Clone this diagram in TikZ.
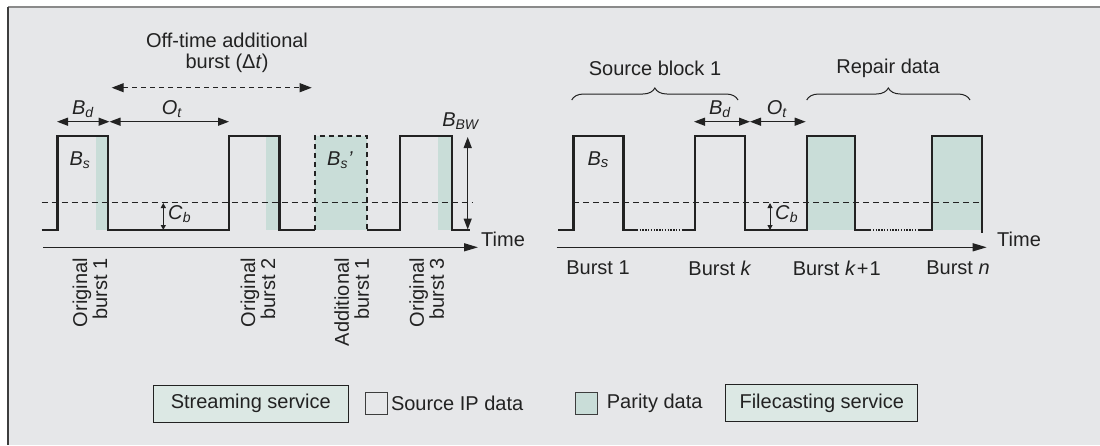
\documentclass[tikz,border=0pt]{standalone}
\usepackage{fontspec}
\setmainfont{Liberation Sans}
\usetikzlibrary{arrows.meta,positioning,decorations.pathreplacing}
\definecolor{bggray}{HTML}{E6E7E9}
\definecolor{paritygreen}{HTML}{C9DDD8}
\definecolor{legendgreen}{HTML}{DCE8E4}
\definecolor{inkgray}{HTML}{222222}
\definecolor{framegray}{HTML}{8A8A8A}
\definecolor{edgegray}{HTML}{3D3D3D}
\newcommand{\vsub}[2]{\textit{#1}\textsubscript{\textit{#2}}}

\begin{document}
\begin{tikzpicture}[x=1pt, y=-1pt,
    every node/.style={font=\fontsize{20}{21}\selectfont, text=inkgray, inner sep=1pt},
    signal/.style={draw=inkgray, line width=2.4pt, line join=miter},
    parity/.style={fill=paritygreen},
    level/.style={draw=inkgray, line width=0.9pt, dash pattern=on 6pt off 4pt},
    dim/.style={draw=inkgray, line width=1.3pt, {Triangle[length=11pt,width=8pt]}-{Triangle[length=11pt,width=8pt]}},
    smalldim/.style={draw=inkgray, line width=1pt, {Triangle[length=5pt,width=5pt]}-{Triangle[length=5pt,width=5pt]}},
    axis/.style={draw=inkgray, line width=1.3pt, -{Triangle[length=14pt,width=8pt]}},
    brace/.style={draw=inkgray, line width=1pt, decorate, decoration={brace, amplitude=12pt}},
    burstlabel/.style={rotate=90, anchor=east, align=right, inner sep=0pt, font=\fontsize{20}{20}\selectfont},
    svcbox/.style={draw=inkgray, line width=1pt, fill=legendgreen, minimum height=37pt},
    keybox/.style={draw=edgegray, line width=1pt, minimum size=22pt, inner sep=0pt}
  ]
    \useasboundingbox (0,0) rectangle (1100,445);
    \fill[bggray] (8,7) rectangle (1100,445);
    \draw[framegray, line width=1.5pt] (1100,7) -- (8,7);
    \draw[edgegray, line width=1.5pt] (8,7) -- (8,445);

    % left: streaming service
    \fill[parity] (95.7,135.7) rectangle (107.7,230);
    \fill[parity] (265.7,135.7) rectangle (279.3,230);
    \fill[parity] (315,135.7) rectangle (366.7,230);
    \fill[parity] (437.7,135.7) rectangle (451.7,230);
    \draw[level] (41.7,202) -- (473,202);
    \draw[signal] (41.7,230) -- (57.3,230) -- (57.3,135.7) -- (107.7,135.7) -- (107.7,230) -- (228.7,230)
      -- (228.7,135.7) -- (279.3,135.7) -- (279.3,230) -- (315,230);
    \draw[signal, dash pattern=on 5pt off 4pt] (315,230) -- (315,135.7) -- (366.7,135.7) -- (366.7,230);
    \draw[signal] (366.7,230) -- (400,230) -- (400,135.7) -- (451.7,135.7) -- (451.7,230) -- (470,230);

    \coordinate (bdA) at (57,121.7);
    \coordinate (bdB) at (109.5,121.7);
    \coordinate (otB) at (229,121.7);
    \draw[dim] (bdA) -- (bdB);
    \draw[dim] (bdB) -- (otB);
    \node[anchor=south] (bdlab) at (83,119) {\vsub{B}{d}};
    \node[anchor=south] (otlab) at (172,119) {\vsub{O}{t}};

    \coordinate (offA) at (111.7,87.7);
    \coordinate (offB) at (311.7,87.7);
    \draw[draw=inkgray, line width=1pt, dash pattern=on 5pt off 4pt,
      {Triangle[length=12pt,width=9pt]}-{Triangle[length=12pt,width=9pt]}] (offA) -- (offB);
    \node[align=center] (offlab) at (227,53) {Off-time additional\\burst (Δ\textit{t})};

    \node (bs1) at (80,160) {\vsub{B}{s}};
    \node (bs2) at (340,160) {\vsub{B}{s}\textit{’}};

    \coordinate (cbTop) at (163.3,203);
    \coordinate (cbBot) at (163.3,230);
    \draw[smalldim] (cbTop) -- (cbBot);
    \node[anchor=west] (cblab) at (167,214) {\vsub{C}{b}};

    \coordinate (bwTop) at (467.7,137);
    \coordinate (bwBot) at (467.7,229.5);
    \draw[dim] (bwTop) -- (bwBot);
    \node (bwlab) at (461,121) {\vsub{B}{BW}};

    \coordinate (tA) at (43,247.3);
    \coordinate (tB) at (478,247.3);
    \draw[axis] (tA) -- (tB);
    \node[anchor=west] (timeL) at (480,239) {Time};

    \node[burstlabel] (orig1) at (90,258) {Original\\burst 1};
    \node[burstlabel] (orig2) at (258,258) {Original\\burst 2};
    \node[burstlabel] (add1) at (351.7,258) {Additional\\burst 1};
    \node[burstlabel] (orig3) at (426.7,258) {Original\\burst 3};

    % right: filecasting service
    \fill[parity] (806.7,135.7) rectangle (855,230);
    \fill[parity] (931.7,135.7) rectangle (981.7,230);
    \draw[level] (573,202) -- (981.7,202);
    \draw[signal] (558,230) -- (573.3,230) -- (573.3,135.7) -- (623.3,135.7) -- (623.3,230) -- (636.7,230);
    \draw[signal, line width=2pt, dash pattern=on 1.4pt off 1.4pt] (636.7,230) -- (683,230);
    \draw[signal] (683,230) -- (695,230) -- (695,135.7) -- (745,135.7) -- (745,230) -- (806.7,230)
      -- (806.7,135.7) -- (855,135.7) -- (855,230) -- (870,230);
    \draw[signal, line width=2pt, dash pattern=on 1.4pt off 1.4pt] (870,230) -- (918,230);
    \draw[signal] (918,230) -- (931.7,230) -- (931.7,135.7) -- (981.7,135.7) -- (981.7,233);

    \coordinate (srcA) at (571.7,100);
    \coordinate (srcB) at (738,100);
    \coordinate (repA) at (806.7,100);
    \coordinate (repB) at (970,100);
    \draw[brace] (srcA) -- (srcB);
    \draw[brace] (repA) -- (repB);
    \node (srclab) at (655,68) {Source block 1};
    \node (replab) at (888,68) {Repair data};

    \coordinate (bdC) at (694,121.7);
    \coordinate (bdD) at (750,121.7);
    \coordinate (otD) at (805.7,121.7);
    \draw[dim] (bdC) -- (bdD);
    \draw[dim] (bdD) -- (otD);
    \node[anchor=south] (bdlab2) at (720,119) {\vsub{B}{d}};
    \node[anchor=south] (otlab2) at (777,119) {\vsub{O}{t}};

    \node (bs3) at (598,160) {\textit{B}\raisebox{-2pt}{\textit{\fontsize{15}{15}\selectfont s}}};

    \coordinate (cbTop2) at (770,203);
    \coordinate (cbBot2) at (770,230);
    \draw[smalldim] (cbTop2) -- (cbBot2);
    \node[anchor=west] (cblab2) at (774,214) {\vsub{C}{b}};

    \coordinate (tC) at (556.7,247.3);
    \coordinate (tD) at (986.7,247.3);
    \draw[axis] (tC) -- (tD);
    \node[anchor=west] (timeR) at (996,239) {Time};

    \node (burst1) at (598,268) {Burst 1};
    \node (burstk) at (720,268) {Burst \textit{k}};
    \node (burstk1) at (836.7,268) {Burst \textit{k}\kern1pt+\kern1pt1};
    \node (burstn) at (958,268) {Burst \textit{n}};

    % legend
    \node[svcbox, minimum width=195pt] (stream) at (250.8,403.6) {Streaming service};
    \node[keybox, fill=bggray] (srcsq) at (376.3,403.3) {};
    \node[right=2pt of srcsq] (srctxt) {Source IP data};
    \node[keybox, fill=paritygreen] (parsq) at (586.2,403.3) {};
    \node[right=8pt of parsq] (partxt) {Parity data};
    \node[svcbox, minimum width=192pt] (filecast) at (821.8,403.3) {Filecasting service};
  \end{tikzpicture}
\end{document}
